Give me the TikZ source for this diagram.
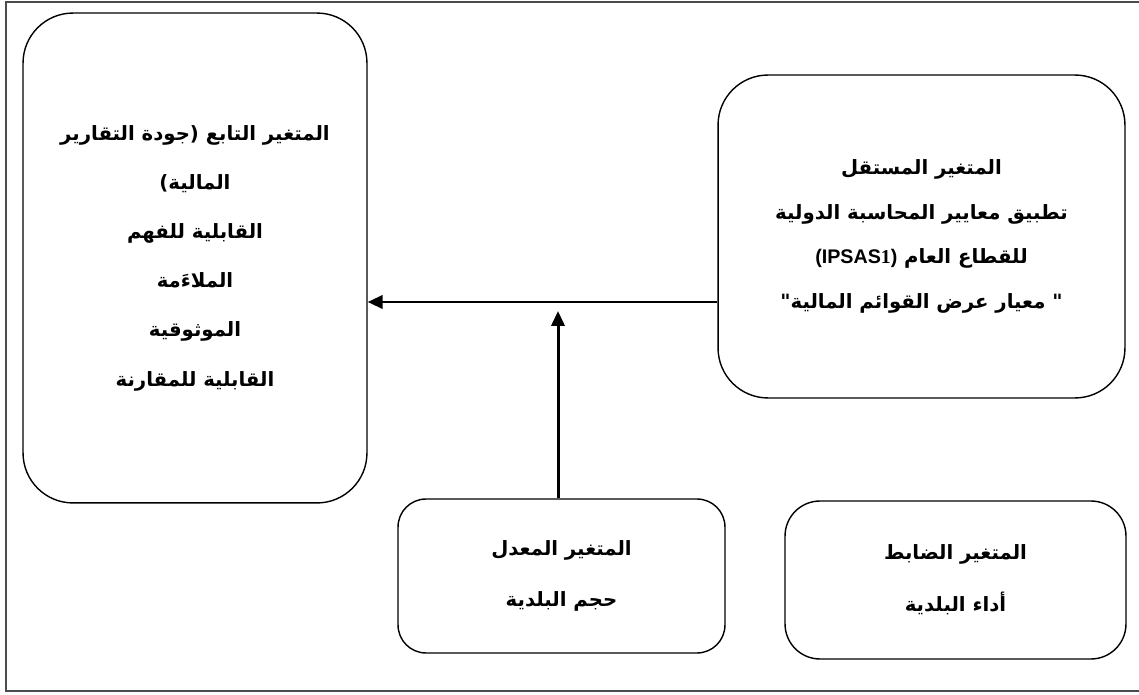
\documentclass[tikz,border=0pt]{standalone}
\usepackage{fontspec}
\usepackage{tikz}
\usetikzlibrary{arrows.meta}
\TeXXeTstate=1
\newfontfamily\arabicfont[Script=Arabic]{DejaVu Sans}
\newfontfamily\latinsans{Liberation Sans}
\newfontfamily\latinserif{Liberation Serif}

\begin{document}
\begin{tikzpicture}[
  x=0.02cm, y=-0.02cm,
  varbox/.style={rectangle, draw, line width=0.8pt, align=center,
                 inner sep=0pt, font=\arabicfont\bfseries\fontsize{11.2}{28}\selectfont},
  arrow/.style={->, line width=1.7pt, >={Triangle[length=8.5pt, width=7.5pt]}}
]
\useasboundingbox (0,0) rectangle (1139,695);

%% ---- FRAME ----
\draw[line width=0.8pt, black!70] (6,2) rectangle (1150,691);

%% ---- DEPENDENT (left) ----
\node[varbox, rounded corners=1cm, minimum width=6.88cm, minimum height=9.8cm] at (195,258) (dep)
  {\beginR المتغير التابع (جودة التقارير\endR\\
   \beginR المالية)\endR\\
   \beginR القابلية للفهم\endR\\
   \beginR الملاءَمة\endR\\
   \beginR الموثوقية\endR\\
   \beginR القابلية للمقارنة\endR};

%% ---- INDEPENDENT (right) ----
\node[varbox, rounded corners=1cm, minimum width=8.14cm, minimum height=6.46cm,
      font=\arabicfont\bfseries\fontsize{11.2}{25.5}\selectfont] at (921.5,236.5) (indep)
  {\beginR المتغير المستقل\endR\\
   \beginR تطبيق معايير المحاسبة الدولية\endR\\
   \beginR للقطاع العام \beginL{\latinsans (IPSAS}{\latinserif 1}{\latinsans )}\endL\endR\\
   \beginR " معيار عرض القوائم المالية"\endR};

%% ---- MODERATOR / CONTROL (bottom) ----
\node[varbox, rounded corners=0.56cm, minimum width=6.54cm, minimum height=3.08cm,
      font=\arabicfont\bfseries\fontsize{11.2}{29.5}\selectfont] at (561.5,576) (mod)
  {\beginR المتغير المعدل\endR\\
   \beginR حجم البلدية\endR};
\node[varbox, rounded corners=0.7cm, minimum width=6.82cm, minimum height=3.16cm,
      font=\arabicfont\bfseries\fontsize{11.2}{29.5}\selectfont] at (955.5,580) (ctrl)
  {\beginR المتغير الضابط\endR\\
   \beginR أداء البلدية\endR};

%% ---- Arrows ----
\coordinate (hl)  at (558,302);
\coordinate (tip) at (558,311);
\draw[arrow] (indep.west |- hl) -- (dep.east |- hl);
\draw[arrow] (mod.north -| tip) -- (tip);
\end{tikzpicture}
\end{document}
